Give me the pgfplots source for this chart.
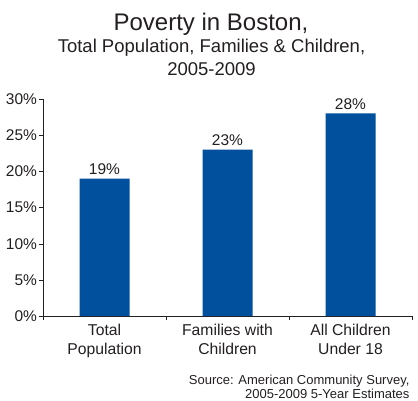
\documentclass[border=0pt]{standalone}
\usepackage{fontspec}
\setmainfont{Liberation Sans}
\usepackage{pgfplots}
\pgfplotsset{compat=1.18}
\definecolor{barblue}{RGB}{0,80,158}
\definecolor{txt}{RGB}{35,31,32}

\begin{document}
\begin{tikzpicture}[x=1pt,y=1pt]
\path[use as bounding box] (0,0) rectangle (418,400);

% titles
\node[anchor=base,text=txt,font=\fontsize{24}{28}\selectfont] at (211,369.5) {Poverty in Boston,};
\node[anchor=base,text=txt,font=\fontsize{18.5}{22}\selectfont] at (211.5,347.5) {Total Population, Families \& Children,};
\node[anchor=base,text=txt,font=\fontsize{18.5}{22}\selectfont] at (211.5,324) {2005-2009};

\begin{axis}[
    at={(43pt,84pt)}, anchor=south west,
    scale only axis,
    width=369pt, height=217pt,
    xmin=-0.5, xmax=2.5,
    ymin=0, ymax=30,
    axis x line*=bottom,
    axis y line*=left,
    axis line style={-,txt},
    ybar,
    bar width=50pt,
    ytick={0,5,10,15,20,25,30},
    yticklabel={\pgfmathprintnumber{\tick}\%},
    xtick={0,1,2},
    xticklabels={{Total\\Population},{Families with\\Children},{All Children\\Under 18}},
    minor xtick={-0.5,0.5,1.5,2.5},
    major x tick style={draw=none},
    tick style={txt},
    tick align=outside,
    major tick length=4pt,
    minor tick length=4pt,
    x tick label style={align=center,text=txt,font=\fontsize{15.7}{18.5}\selectfont,yshift=-1pt},
    y tick label style={text=txt,font=\fontsize{15.5}{18}\selectfont,xshift=1.5pt},
    /pgf/number format/assume math mode=true,
    nodes near coords={\pgfmathprintnumber{\pgfplotspointmeta}\%},
    every node near coord/.append style={text=txt,font=\fontsize{15.5}{18}\selectfont},
]
\addplot[fill=barblue,draw=none] coordinates {(0,19) (1,23) (2,28)};
\end{axis}

% source
\node[anchor=base east,text=txt,font=\fontsize{13}{15}\selectfont] at (413,16) {Source: American Community Survey,};
\node[anchor=base east,text=txt,font=\fontsize{13}{15}\selectfont] at (413,1.5) {2005-2009 5-Year Estimates};
\end{tikzpicture}
\end{document}
